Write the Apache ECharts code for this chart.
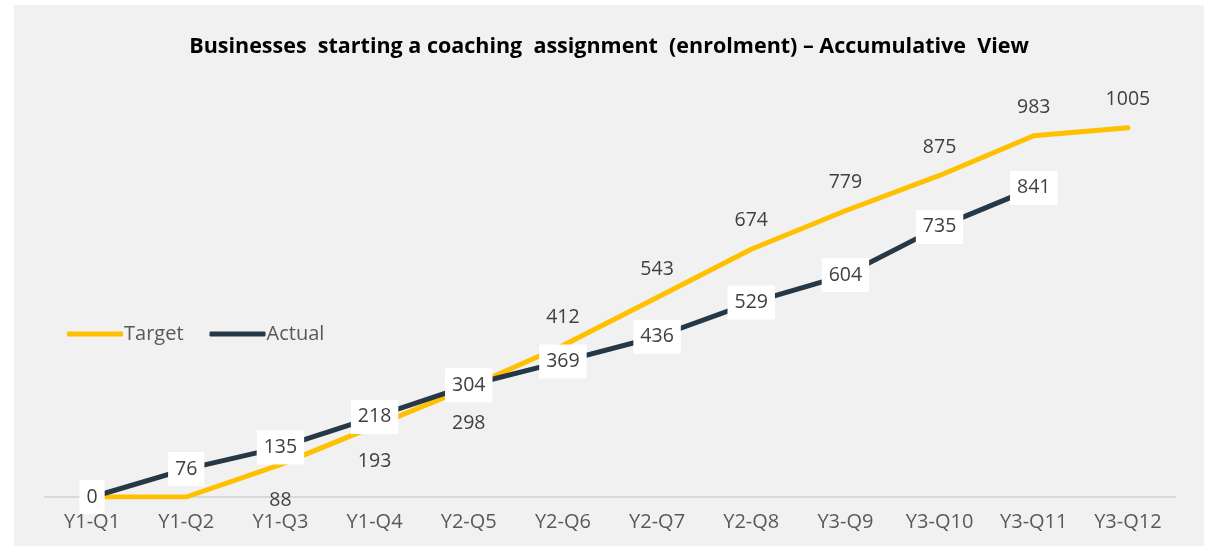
<!DOCTYPE html>
<html>
<head>
<meta charset="utf-8">
<script src="https://cdn.jsdelivr.net/npm/echarts@6/dist/echarts.min.js"></script>
<style>
  html, body { margin: 0; padding: 0; background: #ffffff; }
  #main { position: absolute; left: 14px; top: 5px; width: 1190px; height: 541px; background: #f0f1f0; }
</style>
</head>
<body>
<div id="main"></div>
<script>
// data
var quarters = ['Y1-Q1', 'Y1-Q2', 'Y1-Q3', 'Y1-Q4', 'Y2-Q5', 'Y2-Q6', 'Y2-Q7', 'Y2-Q8', 'Y3-Q9', 'Y3-Q10', 'Y3-Q11', 'Y3-Q12']
var target = [0, 0, 88, 193, 298, 412, 543, 674, 779, 875, 983, 1005]
var actual = [0, 76, 135, 218, 304, 369, 436, 529, 604, 735, 841, null]

var fontFam = '"Open Sans", sans-serif'

// target labels: none on the first two, below for Q3-Q5, above after that
var targetData = []
for (var i = 0; i < target.length; i++) {
    var item = { value: target[i] }
    if (i < 2) {
        item.label = { show: false }
    } else if (i < 5) {
        item.label = { position: 'bottom', distance: 25 }
    }
    targetData.push(item)
}

var mychart = echarts.init(document.getElementById('main'))
mychart.setOption({
    animation: false,
    title: {
        text: 'Businesses  starting a coaching  assignment  (enrolment) – Accumulative  View',
        left: 'center',
        top: 26,
        textStyle: {
            fontFamily: fontFam,
            fontWeight: 'bold',
            fontSize: 21.5,
            color: '#000000'
        }
    },
    legend: {
        left: 48,
        top: 314,
        itemWidth: 56,
        itemHeight: 5,
        itemGap: 26,
        icon: 'roundRect',
        textStyle: { fontFamily: fontFam, fontSize: 20, color: '#595959', padding: [0, 0, 0, -4] },
        data: ['Target', 'Actual']
    },
    grid: { left: 31, right: 29, top: 51, bottom: 49 },
    xAxis: {
        type: 'category',
        data: quarters,
        boundaryGap: true,
        axisLine: { lineStyle: { color: '#d9d9d9', width: 2 } },
        axisTick: { show: false },
        axisLabel: { fontFamily: fontFam, fontSize: 20, color: '#595959', margin: 15 }
    },
    yAxis: {
        type: 'value',
        min: 0,
        max: 1200,
        show: false,
        splitLine: { show: false }
    },
    series: [
        {
            name: 'Target',
            type: 'line',
            data: targetData,
            symbol: 'circle',
            symbolSize: 1,
            showSymbol: true,
            lineStyle: { color: '#ffc000', width: 5, cap: 'round', join: 'round' },
            itemStyle: { color: '#ffc000' },
            label: {
                show: true,
                position: 'top',
                distance: 18,
                fontFamily: fontFam,
                fontSize: 19.5,
                color: '#404040'
            },
            z: 2
        },
        {
            name: 'Actual',
            type: 'line',
            data: actual,
            symbol: 'circle',
            symbolSize: 1,
            showSymbol: true,
            lineStyle: { color: '#263746', width: 5, cap: 'round', join: 'round' },
            itemStyle: { color: '#263746' },
            label: {
                show: true,
                position: 'inside',
                fontFamily: fontFam,
                fontSize: 19.5,
                color: '#404040',
                backgroundColor: '#ffffff',
                padding: [8, 7, 6, 7]
            },
            z: 3
        }
    ]
})
</script>
</body>
</html>
